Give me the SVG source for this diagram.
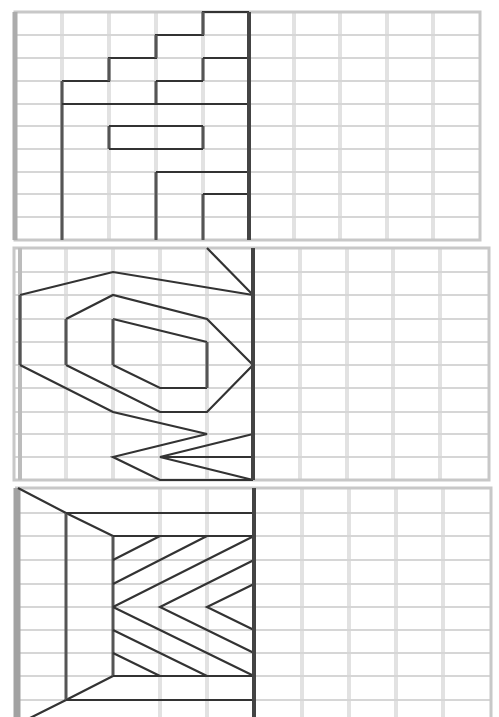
<svg xmlns="http://www.w3.org/2000/svg" width="499" height="717" viewBox="0 0 499 717">
<style>
.gv{stroke:#e2e2e2;stroke-width:4;fill:none}
.gh{stroke:#d6d6d6;stroke-width:2;fill:none}
.fr{stroke:#c8c8c8;stroke-width:3;fill:none}
.lb{stroke:#acacac;stroke-width:5;fill:none}
.sh{stroke:#333;stroke-width:2.2;fill:none;stroke-linejoin:miter}
.sv{stroke:#555;stroke-width:3;fill:none}
.ax{stroke:#444;stroke-width:4;fill:none}
</style>
<rect width="499" height="717" fill="#fff"/>

<g id="panel1">
  <g id="grid1">
    <path class="gv" d="M62 12V240M109 12V240M156 12V240M203 12V240M294 12V240M340 12V240M387 12V240M433 12V240"/>
    <path class="gh" d="M15 35H480M15 58H480M15 81H480M15 104H480M15 126H480M15 149H480M15 172H480M15 194H480M15 217H480"/>
    <rect class="fr" x="15" y="12" width="465" height="228"/>
    <path class="lb" d="M15 12V240"/>
  </g>
  <g id="shape1">
    <path class="sh" d="M249 12H203V35H156V58H109V81H62"/>
    <path class="sv" d="M62 81V240M203 12V35M156 35V58M109 58V81M203 58V81M156 81V104M109 126V149M203 126V149M156 172V240M203 194V240"/>
    <path class="sh" d="M203 58H249M203 81H156M62 104H249M109 126H203M109 149H203M156 172H249M203 194H249"/>
    <path class="ax" d="M249 12V240"/>
  </g>
</g>

<g id="panel2">
  <g id="grid2">
    <path class="gv" d="M66 248V480M113 248V480M160 248V480M207 248V480M300 248V480M347 248V480M393 248V480M440 248V480"/>
    <path class="gh" d="M14 272H489M14 295H489M14 319H489M14 342H489M14 365H489M14 388H489M14 412H489M14 434H489M14 457H489"/>
    <rect class="fr" x="14" y="248" width="475" height="232"/>
    <path class="gv" d="M20 248V480" style="stroke:#bcbcbc"/>
  </g>
  <g id="shape2">
    <path class="sh" d="M207 248L253 295"/>
    <path class="sh" d="M253 295L113 272L20 295"/>
    <path class="sv" d="M20 295V365"/>
    <path class="sh" d="M20 365L113 412L207 434L113 457L160 480H253"/>
    <path class="sh" d="M66 319L113 295L207 319L253 365L207 412H160L66 365"/>
    <path class="sv" d="M66 319V365"/>
    <path class="sh" d="M113 319L207 342M207 388H160L113 365"/>
    <path class="sv" d="M207 342V388M113 319V365"/>
    <path class="sh" d="M253 434L160 457L253 480M160 457H253"/>
    <path class="ax" d="M253 248V480"/>
  </g>
</g>

<g id="panel3">
  <g id="grid3">
    <path class="gv" d="M160 488V717M207 488V717M302 488V717M349 488V717M396 488V717M443 488V717"/>
    <path class="gh" d="M15 513H491M15 536H491M15 560H491M15 584H491M15 607H491M15 630H491M15 653H491M15 676H491M15 700H491"/>
    <path class="fr" d="M15 488H491V717"/>
    <path class="lb" d="M17 488V717" style="stroke-width:7;stroke:#a2a2a2"/>
  </g>
  <g id="shape3">
    <path class="sh" d="M18 488L66 513L113 536"/>
    <path class="sh" d="M113 676L66 700L18 724"/>
    <path class="sv" d="M66 513V700M113 536V676"/>
    <path class="sh" d="M66 513H254M113 536H254M113 676H254M66 700H254"/>
    <path class="sh" d="M113 560L160 536M113 584L207 536M113 607L254 536M113 607L254 676M113 630L207 676M113 653L160 676"/>
    <path class="sh" d="M254 560L160 607L254 653M254 584L207 607L254 630"/>
    <path class="ax" d="M254 488V717"/>
  </g>
</g>
</svg>
